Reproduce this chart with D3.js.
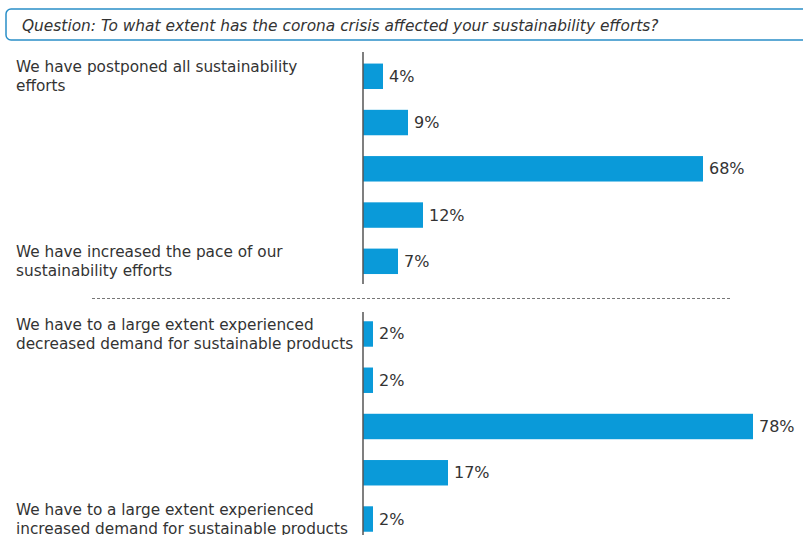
<!DOCTYPE html>
<html><head><meta charset="utf-8">
<script src="https://cdn.jsdelivr.net/npm/d3@7"></script>
<style>body{margin:0;background:#fff}svg{display:block}</style>
</head><body>
<svg id="c" width="803" height="535"></svg>
<script>
const question = "Question: To what extent has the corona crisis affected your sustainability efforts?";
const group1Labels = [
  ["We have postponed all sustainability", "efforts"],
  [], [], [],
  ["We have increased the pace of our", "sustainability efforts"]
];
const group1Values = [4, 9, 68, 12, 7];
const group2Labels = [
  ["We have to a large extent experienced", "decreased demand for sustainable products"],
  [], [], [],
  ["We have to a large extent experienced", "increased demand for sustainable products"]
];
const group2Values = [2, 2, 78, 17, 2];

const svg = d3.select("#c");
const font = "'DejaVu Sans', Verdana, sans-serif";
const barColor = "#0a9ad9";

// question box
svg.append("rect").attr("x", 6).attr("y", 9).attr("width", 820).attr("height", 31)
  .attr("rx", 5).attr("fill", "#fff").attr("stroke", "#2a8fc8").attr("stroke-width", 1.5);
svg.append("text").attr("x", 22).attr("y", 30.5).attr("font-family", font)
  .attr("font-size", 15.4).attr("font-style", "italic").attr("fill", "#333").text(question);

const x = d3.scaleLinear().domain([0, 100]).range([363, 863]);

function drawGroup(labels, values, y0, y1, axisTop, axisBottom) {
  const idx = values.map((d, i) => i);
  const y = d3.scaleBand().domain(idx).range([y0, y1]).paddingInner(0.45).paddingOuter(0.25);
  const g = svg.append("g");
  g.selectAll("rect.bar").data(idx).enter().append("rect").attr("class", "bar")
    .attr("x", x(0)).attr("y", i => y(i)).attr("width", i => x(values[i]) - x(0))
    .attr("height", y.bandwidth()).attr("fill", barColor);
  g.selectAll("text.val").data(idx).enter().append("text").attr("class", "val")
    .attr("x", i => x(values[i]) + 6).attr("y", i => y(i) + y.bandwidth() / 2 + 5.5)
    .attr("font-family", font).attr("font-size", 16).attr("fill", "#333")
    .text(i => values[i] + "%");
  idx.forEach(i => {
    const lines = labels[i];
    if (!lines.length) return;
    const t = g.append("text").attr("font-family", font).attr("font-size", 15.3).attr("fill", "#333");
    const cy = y(i) + y.bandwidth() / 2;
    const lh = 19;
    lines.forEach((ln, k) => {
      t.append("tspan").attr("x", 16)
        .attr("y", cy - (lines.length - 1) * lh / 2 + k * lh + 5.5).text(ln);
    });
  });
  g.append("line").attr("x1", x(0)).attr("x2", x(0)).attr("y1", axisTop).attr("y2", axisBottom)
    .attr("stroke", "#555").attr("stroke-width", 1.5);
}

drawGroup(group1Labels, group1Values, 52, 285.6, 52, 284);
drawGroup(group2Labels, group2Values, 309.7, 543.3, 312, 535);

svg.append("line").attr("x1", 92).attr("x2", 732).attr("y1", 298.5).attr("y2", 298.5)
  .attr("stroke", "#777").attr("stroke-width", 1).attr("stroke-dasharray", "3,2");
</script>
</body></html>
